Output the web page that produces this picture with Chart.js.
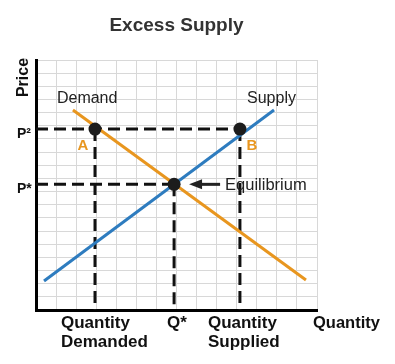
<!DOCTYPE html>
<html>
<head>
<meta charset="utf-8">
<style>
html,body{margin:0;padding:0;background:#fff;}
#c{display:block;}
</style>
<script src="https://cdn.jsdelivr.net/npm/chart.js@4.4.1/dist/chart.umd.min.js"></script>
</head>
<body>
<canvas id="c" width="395" height="364" style="width:395px;height:364px"></canvas>
<script>
// ---- data ----
const demandQ = [1.84, 13.45];
const demandP = [15.2, 2.28];
const supplyQ = [0.4, 11.86];
const supplyP = [2.2, 15.2];
const priceLevels = [13.75, 9.55];          // P2, P*
const priceLabels = ['P²', 'P*'];
const qtyLevels = [2.94, 6.88, 10.16];      // Qd, Q*, Qs
const qtyLabels = [['Quantity', 'Demanded'], ['Q*'], ['Quantity', 'Supplied']];
const pointQ = [2.94, 6.88, 10.16];
const pointP = [13.75, 9.55, 13.75];
const pointLabels = ['A', '', 'B'];
const titleText = 'Excess Supply';
const xAxisLabel = 'Quantity';
const yAxisLabel = 'Price';

const ORANGE = '#E8961F';
const BLUE = '#2E7CBF';
const FONT = '"Liberation Sans", Arial, sans-serif';

const P2 = priceLevels[0], PS = priceLevels[1];
const QD = qtyLevels[0], QS_ = qtyLevels[1], QSup = qtyLevels[2];

function seg(x1, y1, x2, y2) { return [{x: x1, y: y1}, {x: x2, y: y2}]; }
const dashed = [
  seg(0, P2, QSup, P2),
  seg(QD, P2, QD, 0),
  seg(QSup, P2, QSup, 0),
  seg(0, PS, QS_, PS),
  seg(QS_, PS, QS_, 0)
];
const dashDatasets = dashed.map(d => ({
  data: d, showLine: true, borderColor: '#111', borderWidth: 3,
  borderDash: [12, 6], pointRadius: 0, order: 3, borderCapStyle: 'butt'
}));

const annot = {
  id: 'annot',
  afterDraw(chart) {
    const ctx = chart.ctx, xs = chart.scales.x, ys = chart.scales.y, ca = chart.chartArea;
    const X = v => xs.getPixelForValue(v), Y = v => ys.getPixelForValue(v);
    ctx.save();
    // title
    ctx.fillStyle = '#333';
    ctx.font = 'bold 19px ' + FONT;
    ctx.textAlign = 'center'; ctx.textBaseline = 'alphabetic';
    ctx.fillText(titleText, (ca.left + ca.right) / 2, 31);
    // y axis label
    ctx.fillStyle = '#111';
    ctx.save();
    ctx.translate(28, 77.5);
    ctx.rotate(-Math.PI / 2);
    ctx.font = 'bold 16px ' + FONT;
    ctx.textAlign = 'center';
    ctx.fillText(yAxisLabel, 0, 0);
    ctx.restore();
    // price labels
    ctx.font = 'bold 14px ' + FONT;
    ctx.textAlign = 'left';
    priceLabels.forEach((t, i) => ctx.fillText(t, 17, Y(priceLevels[i]) + 8.5));
    // quantity labels
    ctx.font = 'bold 17px ' + FONT;
    const offs = [-34, -7, -32];
    qtyLabels.forEach((lines, i) => {
      lines.forEach((t, j) => ctx.fillText(t, X(qtyLevels[i]) + offs[i], 328 + j * 18.5));
    });
    ctx.font = 'bold 16.5px ' + FONT;
    ctx.fillText(xAxisLabel, ca.right - 4, 328);
    // curve labels
    ctx.font = '16px ' + FONT;
    ctx.fillStyle = '#222';
    ctx.fillText('Demand', X(demandQ[0]) - 16, Y(demandP[0]) - 7);
    ctx.fillText('Supply', X(supplyQ[1]) - 27, Y(supplyP[1]) - 7);
    // A / B
    ctx.font = 'bold 15px ' + FONT;
    ctx.fillStyle = ORANGE;
    ctx.textAlign = 'center';
    ctx.fillText(pointLabels[0], X(pointQ[0]) - 12, Y(pointP[0]) + 21);
    ctx.fillText(pointLabels[2], X(pointQ[2]) + 12, Y(pointP[2]) + 21);
    // equilibrium arrow
    const ex = X(pointQ[1]), ey = Y(pointP[1]);
    ctx.strokeStyle = '#222'; ctx.fillStyle = '#222'; ctx.lineWidth = 3;
    ctx.beginPath(); ctx.moveTo(ex + 26, ey); ctx.lineTo(ex + 46, ey); ctx.stroke();
    ctx.beginPath(); ctx.moveTo(ex + 15, ey); ctx.lineTo(ex + 28, ey - 5); ctx.lineTo(ex + 28, ey + 5); ctx.closePath(); ctx.fill();
    ctx.font = '16.5px ' + FONT;
    ctx.textAlign = 'left';
    ctx.fillText('Equilibrium', ex + 51, ey + 6);
    ctx.restore();
  }
};

new Chart(document.getElementById('c'), {
  type: 'scatter',
  data: {
    datasets: [
      { data: pointQ.map((q, i) => ({x: q, y: pointP[i]})), pointRadius: 6.5, pointHoverRadius: 6.5,
        backgroundColor: '#1c1c1c', borderColor: '#1c1c1c', borderWidth: 0, order: 0 },
      { data: demandQ.map((q, i) => ({x: q, y: demandP[i]})), showLine: true, borderColor: ORANGE,
        borderWidth: 3, pointRadius: 0, order: 1 },
      { data: supplyQ.map((q, i) => ({x: q, y: supplyP[i]})), showLine: true, borderColor: BLUE,
        borderWidth: 3, pointRadius: 0, order: 1 },
      ...dashDatasets
    ]
  },
  options: {
    responsive: false, animation: false, devicePixelRatio: 1,
    layout: { padding: { left: 36, right: 78, top: 60, bottom: 54 } },
    plugins: { legend: { display: false }, tooltip: { enabled: false }, title: { display: false } },
    scales: {
      x: { type: 'linear', min: 0, max: 14,
           ticks: { display: false, stepSize: 1 },
           grid: { color: '#d8d8d8', lineWidth: 1, drawTicks: false },
           border: { display: true, color: '#000', width: 3 },
           afterFit(s) { s.height = 0; } },
      y: { type: 'linear', min: 0, max: 19,
           ticks: { display: false, stepSize: 1 },
           grid: { color: '#d8d8d8', lineWidth: 1, drawTicks: false },
           border: { display: true, color: '#000', width: 3 },
           afterFit(s) { s.width = 0; } }
    }
  },
  plugins: [annot]
});
</script>
</body>
</html>
